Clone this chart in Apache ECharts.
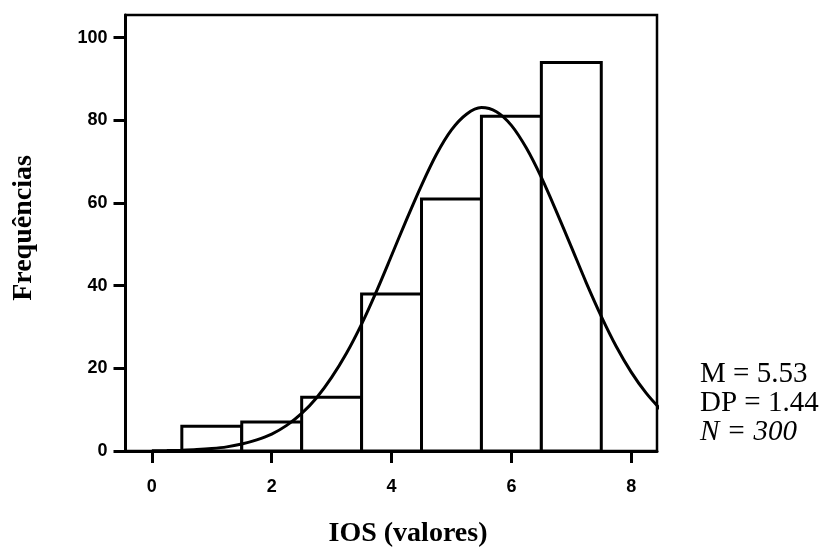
<!DOCTYPE html>
<html>
<head>
<meta charset="utf-8">
<script src="https://cdn.jsdelivr.net/npm/echarts@6/dist/echarts.min.js"></script>
<style>html,body{margin:0;padding:0;background:#fff}#c{width:821px;height:548px}</style>
</head>
<body>
<div id="c"></div>
<script>
// Histogram bins (IOS value) and frequencies
const binCenters = [1, 2, 3, 4, 5, 6, 7];
const frequencies = [6, 7, 13, 38, 61, 81, 94];
// Normal curve (x, frequency)
const curveX = [0, 0.25, 0.5, 0.75, 1, 1.25, 1.5, 1.75, 2, 2.25, 2.5, 2.75, 3, 3.25, 3.5, 3.75, 4, 4.25,
                4.5, 4.75, 5, 5.25, 5.5, 5.75, 6, 6.25, 6.5, 6.75, 7, 7.25, 7.5, 7.75, 8, 8.25, 8.5];
const curveY = [0.05, 0.1, 0.2, 0.35, 0.6, 1.0, 1.7, 2.7, 4.1, 6.2, 9.1, 12.9, 17.8, 23.7, 30.7, 38.7, 47.3, 56,
                64.3, 71.8, 77.7, 81.5, 83.1, 82.1, 78.8, 73.3, 66.2, 58, 49.4, 40.7, 32.6, 25.3, 19.1, 14, 9.9];
const xTicks = [0, 2, 4, 6, 8];
const yTicks = [0, 20, 40, 60, 80, 100];
const statsLines = ['M = 5.53', 'DP = 1.44', 'N = 300'];
const xTitle = 'IOS (valores)';
const yTitle = 'Frequências';

const chart = echarts.init(document.getElementById('c'));
const serif = '"Liberation Serif", "Times New Roman", serif';
const sans = '"Liberation Sans", Arial, sans-serif';

chart.setOption({
  animation: false,
  backgroundColor: '#fff',
  grid: {
    left: 125.5, right: 164, top: 15, bottom: 97,
    show: true, borderColor: '#000', borderWidth: 2.5, backgroundColor: 'transparent'
  },
  xAxis: {
    type: 'value', min: -0.44, max: 8.43,
    splitLine: { show: false },
    axisLine: { show: true, onZero: false, lineStyle: { color: '#000', width: 3 } },
    axisTick: { show: true, length: 12, customValues: xTicks, lineStyle: { color: '#000', width: 3 } },
    axisLabel: { customValues: xTicks, margin: 27, color: '#000', fontFamily: sans, fontWeight: 'bold', fontSize: 18 }
  },
  yAxis: {
    type: 'value', min: 0, max: 105.5,
    splitLine: { show: false },
    axisLine: { show: true, onZero: false, lineStyle: { color: '#000', width: 3 } },
    axisTick: { show: true, length: 12, customValues: yTicks, lineStyle: { color: '#000', width: 3 } },
    axisLabel: { customValues: yTicks, margin: 18, color: '#000', fontFamily: sans, fontWeight: 'bold', fontSize: 18 }
  },
  series: [
    {
      type: 'custom',
      clip: true,
      z: 2,
      data: binCenters.map((c, i) => [c, frequencies[i]]),
      renderItem: function (params, api) {
        const x = api.value(0), y = api.value(1);
        const p0 = api.coord([x - 0.5, y]);
        const p1 = api.coord([x + 0.5, 0]);
        return {
          type: 'rect',
          shape: { x: p0[0], y: p0[1], width: p1[0] - p0[0], height: p1[1] - p0[1] },
          style: { fill: '#fff', stroke: '#000', lineWidth: 3 }
        };
      }
    },
    {
      type: 'line',
      z: 3,
      smooth: 0.3,
      symbol: 'none',
      clip: true,
      data: curveX.map((x, i) => [x, curveY[i]]),
      lineStyle: { color: '#000', width: 3 }
    }
  ],
  graphic: [
    { type: 'text', x: 24, y: 228, rotation: Math.PI / 2,
      style: { text: yTitle, font: 'bold 28px ' + serif, fill: '#000', align: 'center', verticalAlign: 'middle' } },
    { type: 'text', x: 408, y: 534,
      style: { text: xTitle, font: 'bold 28px ' + serif, fill: '#000', align: 'center', verticalAlign: 'middle' } },
    { type: 'text', x: 700, y: 374,
      style: { text: statsLines[0], font: '29px ' + serif, fill: '#000', align: 'left', verticalAlign: 'middle' } },
    { type: 'text', x: 700, y: 403,
      style: { text: statsLines[1], font: '29px ' + serif, fill: '#000', align: 'left', verticalAlign: 'middle' } },
    { type: 'text', x: 700, y: 432,
      style: { text: statsLines[2], font: 'italic 29px ' + serif, fill: '#000', align: 'left', verticalAlign: 'middle' } }
  ]
});
</script>
</body>
</html>
